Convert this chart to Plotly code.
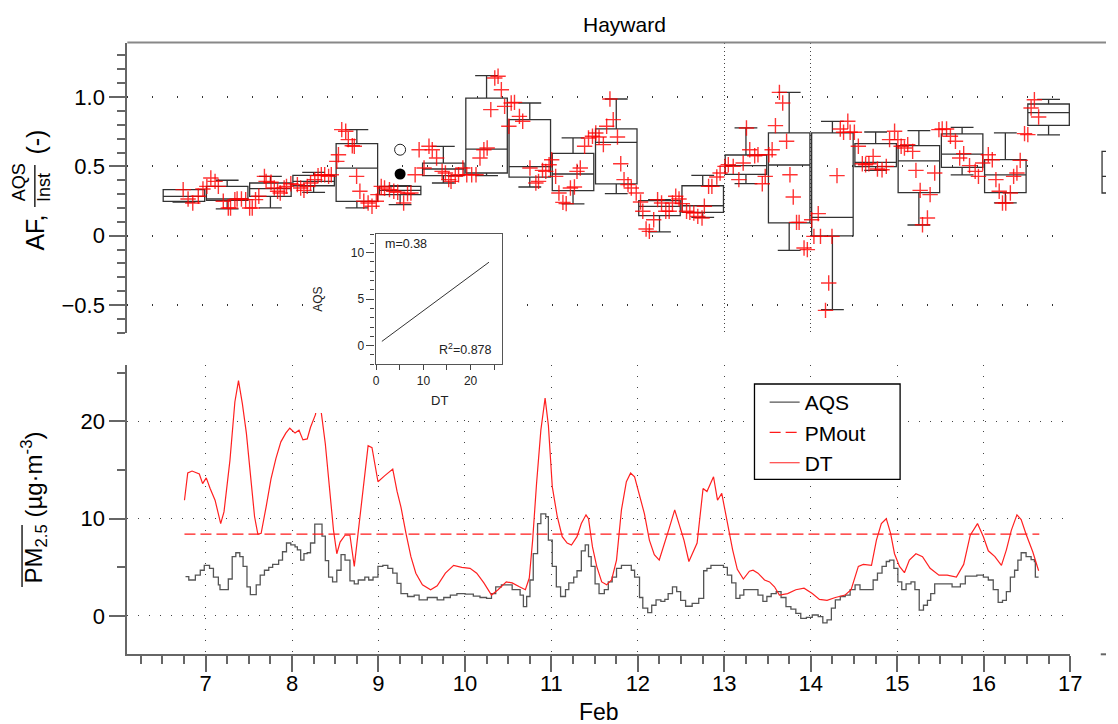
import plotly.graph_objects as go

W, H = 1118, 724
def px(x): return x / W
def py(y): return 1 - y / H

FONT = "Liberation Sans, Arial, sans-serif"

# ---------------- top panel: half-day box statistics of AF ----------------
box_day = [6.75, 7.25, 7.75, 8.25, 8.75, 9.25, 9.75, 10.25, 10.75, 11.25, 11.75,
           12.25, 12.75, 13.25, 13.75, 14.25, 14.75, 15.25, 15.75, 16.25, 16.75]
box_lo  = [0.243, 0.193, 0.200, 0.313, 0.200, 0.224, 0.380, 0.433, 0.351, 0.229, 0.303,
           0.027, 0.132, 0.375, -0.106, -0.534, 0.471, 0.077, 0.438, 0.236, 0.727]
box_q1  = [0.248, 0.255, 0.284, 0.360, 0.248, 0.296, 0.433, 0.452, 0.423, 0.325, 0.373,
           0.144, 0.168, 0.442, 0.092, -0.002, 0.498, 0.310, 0.493, 0.310, 0.796]
box_med = [0.284, 0.265, 0.339, 0.392, 0.488, 0.327, 0.481, 0.625, 0.498, 0.445, 0.673,
           0.211, 0.216, 0.505, 0.510, 0.132, 0.529, 0.539, 0.589, 0.438, 0.887]
box_q3  = [0.332, 0.356, 0.380, 0.435, 0.664, 0.356, 0.524, 0.993, 0.837, 0.594, 0.770,
           0.253, 0.360, 0.582, 0.741, 0.741, 0.664, 0.649, 0.734, 0.548, 0.950]
box_hi  = [0.332, 0.400, 0.428, 0.457, 0.765, 0.360, 0.644, 1.154, 0.957, 0.705, 0.986,
           0.260, 0.435, 0.777, 1.034, 0.825, 0.748, 0.758, 0.781, 0.741, 0.984]

# individual AF values (red crosses)
af_t = [6.741, 6.798, 6.852, 6.916, 6.970, 7.015, 7.061, 7.110, 7.148, 7.205, 7.263, 7.289,
        7.339, 7.365, 7.415, 7.464, 7.510, 7.540, 7.578, 7.616, 7.681, 7.700, 7.757, 7.795,
        7.833, 7.864, 7.909, 7.936, 7.986, 8.062, 8.100, 8.138, 8.176, 8.214, 8.263, 8.301,
        8.339, 8.378, 8.423, 8.454, 8.518, 8.537, 8.575, 8.621, 8.651, 8.697, 8.720, 8.747,
        8.785, 8.830, 8.880, 8.925, 8.975, 8.994,
        9.032, 9.070, 9.127, 9.177, 9.222, 9.291, 9.336, 9.375, 9.424, 9.470, 9.527, 9.584,
        9.622, 9.672, 9.736, 9.774, 9.812, 9.839, 9.888, 9.926, 9.976, 10.021, 10.078, 10.128,
        10.174, 10.219, 10.257, 10.299, 10.345, 10.383, 10.421, 10.459, 10.508, 10.535, 10.573,
        10.630, 10.668, 10.752, 10.820, 10.851, 10.897, 10.935, 10.973, 11.003, 11.049, 11.087,
        11.133, 11.171, 11.220, 11.266, 11.296, 11.334, 11.384, 11.429, 11.475, 11.513, 11.551,
        11.601, 11.639, 11.677, 11.715, 11.764, 11.802, 11.840, 11.886, 11.924, 11.981, 12.031,
        12.057, 12.095, 12.133, 12.183, 12.228, 12.274, 12.323, 12.362, 12.400, 12.438, 12.476,
        12.514, 12.563, 12.601, 12.647, 12.693, 12.742, 12.769, 12.818, 12.856, 12.913, 12.951,
        13.008, 13.046, 13.103, 13.168, 13.218, 13.256, 13.294,
        13.351, 13.389, 13.439, 13.473, 13.515, 13.553, 13.591, 13.637, 13.675, 13.720, 13.759,
        13.797, 13.835, 13.865, 13.922, 13.960, 14.010, 14.036, 14.086, 14.112, 14.170, 14.207,
        14.245, 14.303, 14.341, 14.379, 14.428, 14.455, 14.504, 14.550, 14.596, 14.634, 14.672,
        14.721, 14.771, 14.824, 14.873, 14.911, 14.969, 15.007, 15.045, 15.083, 15.121, 15.178,
        15.216, 15.265, 15.292, 15.349, 15.380, 15.433, 15.482, 15.520, 15.570, 15.615, 15.673,
        15.722, 15.768, 15.836, 15.901, 15.939, 15.988, 16.053, 16.099, 16.141, 16.179, 16.217,
        16.255, 16.308, 16.346, 16.384, 16.422, 16.472, 16.510, 16.548, 16.586, 16.635]
af_v = [0.332, 0.265, 0.236, 0.284, 0.337, 0.356, 0.416, 0.392, 0.356, 0.248, 0.200, 0.200,
        0.260, 0.265, 0.265, 0.260, 0.200, 0.200, 0.260, 0.284, 0.428, 0.392, 0.385, 0.344,
        0.320, 0.308, 0.344, 0.356, 0.375, 0.368, 0.344, 0.327, 0.356, 0.380, 0.404, 0.433,
        0.440, 0.440, 0.428, 0.440, 0.536, 0.584, 0.765, 0.753, 0.693, 0.649, 0.645, 0.428,
        0.320, 0.248, 0.236, 0.212, 0.248, 0.296,
        0.356, 0.344, 0.332, 0.320, 0.313, 0.236, 0.303, 0.308, 0.440, 0.620, 0.488, 0.645,
        0.620, 0.560, 0.464, 0.452, 0.404, 0.392, 0.428, 0.440, 0.488, 0.440, 0.440, 0.440,
        0.560, 0.620, 0.632, 0.909, 1.138, 1.150, 1.053, 0.933, 0.789, 0.957, 0.962,
        0.861, 0.825, 0.488, 0.380, 0.392, 0.471, 0.464, 0.512, 0.548, 0.428, 0.308,
        0.240, 0.231, 0.344, 0.351, 0.464, 0.488, 0.645, 0.705, 0.717, 0.741, 0.712,
        0.657, 0.789, 0.986, 0.837, 0.712, 0.519, 0.404, 0.368, 0.344, 0.308, 0.243,
        0.176, 0.048, 0.031, 0.115, 0.260, 0.236, 0.176, 0.176, 0.236, 0.284, 0.265,
        0.231, 0.176, 0.168, 0.164, 0.139, 0.127, 0.212, 0.356, 0.356, 0.423, 0.452,
        0.500, 0.512, 0.500, 0.404, 0.524, 0.777, 0.620,
        0.577, 0.584, 0.375, 0.428, 0.584, 0.620, 0.794, 1.034, 0.957, 0.681, 0.440,
        0.279, 0.096, 0.096, -0.089, -0.101, 0.115, -0.005, 0.159, -0.005, -0.539, -0.341,
        -0.005, 0.433, 0.770, 0.746, 0.825, 0.746, 0.746, 0.645, 0.519, 0.512, 0.519,
        0.572, 0.481, 0.476, 0.500, 0.693, 0.753, 0.693, 0.645, 0.632, 0.657, 0.608,
        0.471, 0.327, 0.079, 0.127, 0.296, 0.452, 0.765, 0.770, 0.770, 0.717, 0.681,
        0.560, 0.592, 0.505, 0.464, 0.428, 0.524, 0.584, 0.548, 0.404, 0.320, 0.236,
        0.236, 0.308, 0.428, 0.452, 0.543, 0.736, 0.729, 0.921, 0.981, 0.856]

circ_day = [9.25]
circ_open_v = [0.62]
circ_fill_v = [0.445]

# ---------------- bottom panel: PM2.5 time series ----------------
aqs_t = [6.768, 6.806, 6.882, 6.939, 6.985, 7.046, 7.091, 7.148, 7.167, 7.263, 7.308, 7.350,
         7.396, 7.434, 7.479, 7.518, 7.586, 7.632, 7.681, 7.731, 7.776, 7.845, 7.890, 7.936,
         7.986, 8.035, 8.062, 8.100, 8.138, 8.176, 8.214, 8.263, 8.309, 8.347, 8.385, 8.423,
         8.469, 8.518, 8.567, 8.613, 8.670, 8.720, 8.766, 8.842, 8.887, 8.937, 8.994, 9.050,
         9.108, 9.165, 9.215, 9.260, 9.336, 9.413, 9.470, 9.565, 9.679, 9.755, 9.831, 9.907,
         10.002, 10.097, 10.174, 10.250, 10.307, 10.356, 10.421, 10.497, 10.546, 10.638, 10.676,
         10.714, 10.752, 10.790, 10.840, 10.878, 10.935, 10.965, 11.010, 11.057, 11.106, 11.163,
         11.201, 11.258, 11.296, 11.346, 11.391, 11.429, 11.460, 11.505, 11.551, 11.612, 11.658,
         11.703, 11.753, 11.810, 11.924, 11.962, 12.019, 12.057, 12.114, 12.160, 12.210, 12.266,
         12.312, 12.350, 12.400, 12.449, 12.495, 12.552, 12.628, 12.704, 12.761, 12.799, 12.845,
         12.990, 13.035, 13.085, 13.134, 13.180, 13.225, 13.389, 13.446, 13.492, 13.542, 13.600,
         13.656, 13.713, 13.770, 13.827, 13.884, 13.949, 14.017, 14.086, 14.139, 14.188, 14.238,
         14.284, 14.341, 14.398, 14.455, 14.512, 14.569, 14.721, 14.771, 14.824, 14.873, 14.911,
         14.961, 15.007, 15.052, 15.102, 15.159, 15.204, 15.254, 15.303, 15.349, 15.387, 15.433,
         15.634, 15.730, 15.787, 15.920, 15.996, 16.053, 16.110, 16.167, 16.217, 16.262, 16.308,
         16.357, 16.395, 16.433, 16.490, 16.548, 16.586, 16.597, 16.635]
aqs_v = [4.04, 3.7, 4.2, 4.7, 5.2, 4.9, 4.0, 3.2, 2.7, 3.8, 6.1, 6.5,
         6.1, 5.1, 3.0, 2.2, 3.2, 4.2, 4.7, 5.0, 5.3, 5.75, 6.6, 7.5,
         7.3, 7.1, 6.8, 5.75, 6.4, 6.5, 7.5, 9.45, 9.45, 8.2, 5.7, 4.0,
         3.5, 4.7, 6.3, 5.75, 3.6, 3.3, 3.7, 4.0, 3.7, 4.0, 5.1, 5.2,
         4.9, 4.4, 3.35, 2.3, 2.0, 2.15, 1.65, 1.9, 1.65, 1.9, 2.15, 2.3,
         2.25, 2.05, 1.9, 1.8, 2.3, 3.0, 3.2, 3.2, 2.7, 2.15, 0.96,
         2.0, 3.7, 6.4, 9.5, 10.5, 10.2, 7.8, 5.1, 3.0, 2.0, 2.7,
         3.4, 4.0, 4.65, 6.7, 7.3, 6.1, 5.1, 3.3, 2.3, 2.7, 3.5,
         4.0, 4.9, 5.2, 4.7, 4.0, 1.9, 0.8, 0.35, 1.1, 1.65, 1.5,
         1.7, 2.3, 3.0, 2.5, 1.6, 1.0, 1.3, 1.8, 4.65, 4.9, 5.2,
         5.0, 4.2, 3.4, 1.8, 2.15, 2.7, 2.15, 1.5, 2.0, 2.3, 2.5,
         1.9, 0.96, 0.7, 0.27, -0.24, -0.14, 0.1, -0.07, -0.7, -0.4, 0.8,
         1.65, 2.0, 2.15, 2.7, 3.2, 2.7, 3.7, 4.4, 5.1, 5.6, 5.75,
         4.9, 3.5, 2.7, 3.3, 3.5, 2.7, 0.6, 1.1, 1.6, 2.3, 3.3,
         3.0, 3.3, 4.1, 4.2, 4.0, 3.7, 2.7, 1.4, 1.6, 2.5, 4.0,
         4.7, 5.75, 6.5, 6.1, 5.8, 5.6, 4.0, 4.0]

dt_t = [6.756, 6.794, 6.844, 6.928, 6.966, 7.008, 7.053, 7.110, 7.175, 7.213, 7.282, 7.339,
        7.381, 7.426, 7.472, 7.518, 7.567, 7.605, 7.643, 7.700, 7.757, 7.814, 7.871, 7.928,
        7.974, 8.035, 8.081, 8.126, 8.176, 8.214, 8.271, 8.305, 8.340, 8.385, 8.442, 8.480,
        8.518, 8.556, 8.613, 8.670, 8.720, 8.766, 8.823, 8.880, 8.925, 8.994, 9.070, 9.165,
        9.215, 9.260, 9.318, 9.375, 9.432, 9.508, 9.603, 9.679, 9.774, 9.869, 9.964, 10.059,
        10.136, 10.219, 10.307, 10.383, 10.478, 10.546, 10.630, 10.699, 10.744, 10.783, 10.828,
        10.878, 10.927, 10.965, 11.010, 11.068, 11.125, 11.182, 11.232, 11.296, 11.346, 11.400,
        11.429, 11.475, 11.524, 11.582, 11.639, 11.696, 11.753, 11.810, 11.867, 11.916, 11.962,
        12.019, 12.076, 12.133, 12.190, 12.247, 12.297, 12.362, 12.426, 12.476, 12.533, 12.590,
        12.628, 12.685, 12.754, 12.799, 12.875, 12.921, 12.970, 13.027, 13.096, 13.150, 13.220,
        13.290, 13.332, 13.389, 13.465, 13.523, 13.580, 13.637, 13.732, 13.827, 13.922, 14.017,
        14.100, 14.188, 14.284, 14.398, 14.466, 14.550, 14.607, 14.702, 14.759, 14.816, 14.873,
        14.923, 14.968, 15.026, 15.083, 15.140, 15.216, 15.292, 15.380, 15.482, 15.577, 15.684,
        15.768, 15.844, 15.928, 15.996, 16.053, 16.129, 16.205, 16.262, 16.319, 16.384, 16.433,
        16.490, 16.567, 16.635]
dt_v = [11.9, 14.7, 14.9, 14.6, 13.6, 14.2, 13.1, 11.9, 9.5, 10.7, 16.0, 22.0,
        24.2, 21.8, 18.8, 14.3, 10.2, 8.4, 8.5, 11.2, 14.1, 16.2, 17.9, 18.8,
        19.3, 18.8, 19.1, 18.1, 18.2, 19.4, 20.7, 22.5, 20.8, 17.7, 11.9, 8.8,
        6.4, 7.6, 8.3, 8.3, 5.1, 8.5, 13.3, 17.5, 17.3, 13.8, 14.4, 15.1,
        12.8, 11.2, 8.5, 6.1, 4.4, 3.2, 2.7, 3.1, 4.4, 5.2, 5.0, 4.9,
        4.4, 3.4, 2.15, 2.7, 3.5, 3.4, 3.0, 2.7, 3.9, 7.8, 13.6,
        19.1, 22.4, 19.6, 13.3, 10.2, 8.15, 7.5, 7.3, 8.15, 9.5, 10.4,
        10.0, 7.1, 5.1, 3.5, 3.2, 3.7, 5.75, 10.9, 13.8, 14.7, 14.3,
        12.3, 10.5, 7.8, 6.3, 5.75, 7.1, 9.0, 10.9, 9.5, 7.8, 5.6,
        6.3, 7.5, 13.1, 12.8, 14.3, 11.9, 12.6, 9.9, 6.8, 4.8, 3.8,
        4.6, 4.7, 4.4, 3.7, 3.5, 3.0, 2.15, 2.3, 2.7, 2.85, 2.3,
        1.7, 1.6, 1.9, 2.15, 2.7, 5.1, 5.3, 5.2, 7.8, 9.5, 10.0,
        8.5, 6.4, 5.1, 4.45, 5.75, 6.4, 6.1, 4.9, 4.2, 4.2, 4.0,
        5.3, 8.3, 9.5, 8.15, 6.7, 6.1, 5.2, 6.8, 8.8, 10.4, 9.9,
        8.4, 6.6, 4.65]

pmout_t = [6.756, 16.643]
pmout_v = [8.42, 8.42]

# ---------------- inset: AQS vs DT regression ----------------
fit_x = [1.2, 23.9]
fit_y = [0.46, 8.97]
fit_slope = "m=0.38"
fit_r2 = "R<sup>2</sup>=0.878"

# ---------------- partially visible neighbour panel (box cut by the page edge) ----------------
frag_x = [19]
frag_q1 = [0.308]
frag_med = [0.428]
frag_q3 = [0.608]

xr = [6.095, 17.0]
GRAY = "#666"

fig = go.Figure()

fig.add_trace(go.Box(x=box_day, q1=box_q1, median=box_med, q3=box_q3,
                     lowerfence=box_lo, upperfence=box_hi, width=0.48, whiskerwidth=0.55,
                     boxpoints=False, fillcolor="rgba(0,0,0,0)",
                     line=dict(color="#333", width=1.3), xaxis="x", yaxis="y",
                     showlegend=False, hoverinfo="skip"))
fig.add_trace(go.Scatter(x=af_t, y=af_v, mode="markers", xaxis="x", yaxis="y", showlegend=False,
                         marker=dict(symbol="cross-thin", size=11,
                                     line=dict(color="rgba(255,0,0,0.8)", width=1.4))))
fig.add_trace(go.Scatter(x=circ_day, y=circ_open_v, mode="markers", xaxis="x", yaxis="y",
                         showlegend=False,
                         marker=dict(symbol="circle-open", size=11, color="#222",
                                     line=dict(width=1))))
fig.add_trace(go.Scatter(x=circ_day, y=circ_fill_v, mode="markers", xaxis="x", yaxis="y",
                         showlegend=False, marker=dict(symbol="circle", size=11, color="#000")))

fig.add_trace(go.Scatter(x=aqs_t, y=aqs_v, mode="lines", name="AQS", xaxis="x2", yaxis="y2",
                         line=dict(color="#555", width=1.3, shape="hv")))
fig.add_trace(go.Scatter(x=pmout_t, y=pmout_v, mode="lines", name="PMout", xaxis="x2", yaxis="y2",
                         line=dict(color="#ff1a1a", width=1.3, dash="11px,5px")))
fig.add_trace(go.Scatter(x=dt_t, y=dt_v, mode="lines", name="DT", xaxis="x2", yaxis="y2",
                         line=dict(color="#ff2020", width=1.2)))

# cover subplot (white background under the inset)
fig.add_trace(go.Scatter(x=[], y=[], xaxis="x3", yaxis="y3", showlegend=False))
# inset
fig.add_trace(go.Scatter(x=fit_x, y=fit_y, mode="lines", xaxis="x4", yaxis="y4", showlegend=False,
                         line=dict(color="#333", width=1)))
# neighbour panel fragment
fig.add_trace(go.Box(x=frag_x, q1=frag_q1, median=frag_med, q3=frag_q3, lowerfence=frag_q1,
                     upperfence=frag_q3, width=10, boxpoints=False, fillcolor="rgba(0,0,0,0)",
                     line=dict(color="#333", width=1.3), xaxis="x5", yaxis="y5",
                     showlegend=False, hoverinfo="skip"))

tickfont = dict(family=FONT, size=22, color="black")
noaxis = dict(showline=False, showticklabels=False, ticks="", showgrid=False, zeroline=False)

fig.update_layout(
    width=W, height=H, margin=dict(l=0, r=0, t=0, b=0),
    paper_bgcolor="white", plot_bgcolor="white",
    font=dict(family=FONT, size=22, color="black"),
    hovermode=False,
    legend=dict(x=px(772), y=py(382), xanchor="left", yanchor="top",
                bgcolor="rgba(0,0,0,0)", borderwidth=0,
                font=dict(family=FONT, size=21, color="black"), tracegroupgap=0),
    xaxis=dict(domain=[px(126), px(1081.7)], range=xr, anchor="y", showline=False, ticks="",
               showticklabels=False, tickmode="array", tickvals=[13, 14], showgrid=True,
               gridcolor="#444", griddash="1px,3px", gridwidth=1, zeroline=False),
    yaxis=dict(domain=[py(332.7), py(43)], range=[-0.7, 1.39], anchor="x",
               tickmode="array", tickvals=[-0.5, 0, 0.5, 1.0],
               ticktext=["\u22120.5", "0", "0.5", "1.0"], ticks="outside", ticklen=16,
               tickwidth=1.5, tickcolor=GRAY, showline=True, linecolor=GRAY, linewidth=2,
               showgrid=True, gridcolor="#333", griddash="1px,24px", gridwidth=1.5,
               zeroline=False, tickfont=tickfont,
               minor=dict(tickmode="linear", dtick=0.1, tick0=0, ticks="outside", ticklen=8,
                          tickwidth=1.5, tickcolor=GRAY, showgrid=False)),
    xaxis2=dict(domain=[px(126), px(1081.7)], range=xr, anchor="y2", tick0=0, dtick=1,
                ticks="outside", ticklen=16, tickwidth=1.5, tickcolor=GRAY, showline=True,
                linecolor=GRAY, linewidth=2, showgrid=True, gridcolor="#444",
                griddash="1px,10px", gridwidth=1.2, zeroline=False, tickfont=tickfont,
                ticklabelstandoff=-8,
                minor=dict(dtick=0.25, tick0=0, ticks="outside", ticklen=8, tickwidth=1.5,
                           tickcolor=GRAY, showgrid=False)),
    yaxis2=dict(domain=[py(654.3), py(365)], range=[-3.94, 25.8], anchor="x2", tick0=0,
                dtick=10, ticks="outside", ticklen=16, tickwidth=1.5, tickcolor=GRAY,
                showline=True, linecolor=GRAY, linewidth=2, showgrid=True, gridcolor="#444",
                griddash="1px,10px", gridwidth=1.2, zeroline=False, tickfont=tickfont,
                minor=dict(dtick=5, tick0=0, ticks="outside", ticklen=8, tickwidth=1.5,
                           tickcolor=GRAY, showgrid=False)),
    xaxis3=dict(domain=[px(312), px(525)], range=[0, 1], anchor="y3", **noaxis),
    yaxis3=dict(domain=[py(413), py(226)], range=[0, 1], anchor="x3", **noaxis),
    xaxis4=dict(domain=[px(377.7), px(506)], range=[-0.12, 26.7], anchor="y4", tick0=0,
                dtick=10, ticks="outside", ticklen=5, tickwidth=1, tickcolor="#444",
                showline=True, mirror=True, linecolor="#555", linewidth=1.3, showgrid=False,
                zeroline=False, tickfont=dict(family=FONT, size=12, color="#222"),
                minor=dict(dtick=5, tick0=0, ticks="outside", ticklen=5, tickwidth=1,
                           tickcolor="#444")),
    yaxis4=dict(domain=[py(364.3), py(234)], range=[-2, 12], anchor="x4", tick0=0, dtick=5,
                ticks="outside", ticklen=8, tickwidth=1, tickcolor="#444", showline=True,
                mirror=True, linecolor="#555", linewidth=1.3, showgrid=False, zeroline=False,
                tickfont=dict(family=FONT, size=12, color="#222"),
                minor=dict(dtick=1, tick0=0, ticks="outside", ticklen=4, tickwidth=1,
                           tickcolor="#444")),
    xaxis5=dict(domain=[px(1100), 1], range=[0, 18], anchor="y5", **noaxis),
    yaxis5=dict(domain=[py(332.7), py(43)], range=[-0.7, 1.39], anchor="x5", **noaxis),
)

def ann(text, x, y, size, angle=0, xanchor="center", color="black"):
    return dict(text=text, x=px(x), y=py(y), xref="paper", yref="paper", showarrow=False,
                textangle=angle, xanchor=xanchor, yanchor="middle",
                font=dict(family=FONT, size=size, color=color))

annotations = [
    ann("Hayward", 630, 24, 21),
    ann("Feb", 604, 712, 23),
    ann("AF,", 32, 233, 25, -90),
    ann("(-)", 32.5, 142.5, 25, -90),
    ann("AQS", 16.5, 182, 18, -90),
    ann("Inst", 42, 187.5, 18, -90),
    ann("PM<sub>2.5</sub> (µg·m<sup>-3</sup>)", 31, 508, 24, -90),
    ann("AQS", 319, 299, 12, -90, color="#222"),
    ann("DT", 442.5, 400.5, 13, color="#222"),
    ann(fit_slope, 385, 244, 12.5, xanchor="left", color="#222"),
    ann(fit_r2, 498, 349, 12.5, xanchor="right", color="#222"),
]
fig.update_layout(annotations=annotations)

def line(x0, y0, x1, y1, color="black", width=1.3):
    return dict(type="line", xref="paper", yref="paper", x0=px(x0), y0=py(y0), x1=px(x1),
                y1=py(y1), line=dict(color=color, width=width), layer="above")

shapes = [
    line(126, 42.5, 1118, 42.5, "#888", 2),          # top frame line
    line(32.3, 165, 32.3, 207, "black", 1.3),         # fraction bar
    line(19.3, 525, 19.3, 587, "black", 1.3),         # overline on PM2.5
    line(1112.7, 654.3, 1118, 654.3, GRAY, 2),        # neighbour panel axis stub
    dict(type="rect", xref="paper", yref="paper", x0=px(761.7), x1=px(909.3),
         y0=py(479.3), y1=py(384), line=dict(color="black", width=1.3),
         fillcolor="white", layer="above"),             # legend frame
]
fig.update_layout(shapes=shapes)

fig.write_html("out.html")
